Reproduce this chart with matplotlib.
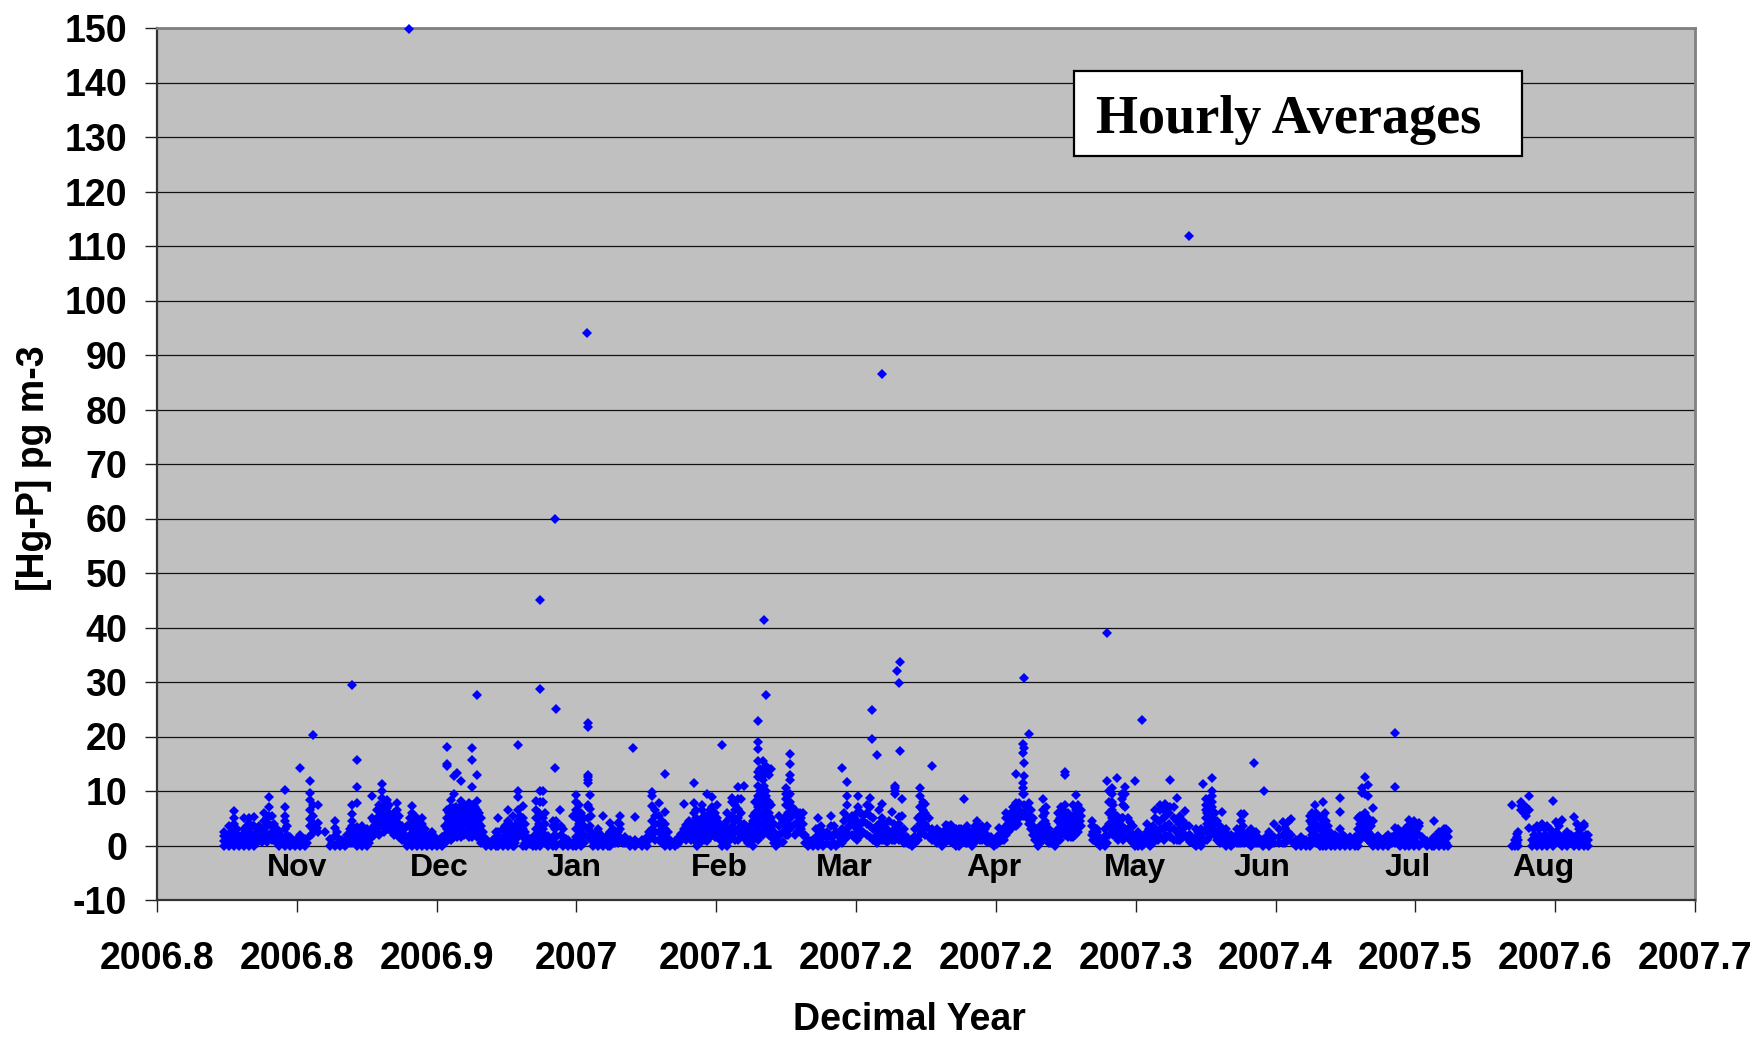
import matplotlib
matplotlib.use('Agg')
import matplotlib.pyplot as plt
from matplotlib.patches import Rectangle

# Each row: decimal year, then the Hg-P values read at that time
hg_nov = [
    (2006.790, 0, 0.8, 1.8, 2.4), (2006.793, 0, 1, 2.2, 3.6), (2006.796, 0, 1, 2.5, 4, 5, 6.3),
    (2006.799, 0, 0.8, 1.8), (2006.802, 0, 1.5, 3, 5), (2006.805, 0, 1.5, 3, 4.2, 5),
    (2006.808, 0, 0.8, 2, 3.5, 5.2), (2006.811, 1.2, 2.4, 3.6), (2006.814, 1.5, 3, 4.5, 6),
    (2006.817, 2, 4, 5.5, 7, 8.9), (2006.820, 1, 2.5, 3.9), (2006.823, 0, 1, 2.4),
    (2006.826, 0, 1.5, 3, 4.5, 5.4, 7.1, 10.1), (2006.829, 0, 0.7, 1.5), (2006.832, 0, 0.5),
    (2006.835, 0, 1, 2, 14.3), (2006.838, 0, 1.2), (2006.841, 1.8, 3.5, 4.8, 6.6, 8.4, 9.6, 11.8),
    (2006.843, 3, 4.2, 5.5, 7.5, 20.2), (2006.846, 2.5, 4.2, 7.5), (2006.850, 2.5),
    (2006.853, 0, 1.2), (2006.856, 0, 1.8, 3.3, 4.5), (2006.859, 0, 0.6), (2006.862, 0, 0.6),
    (2006.865, 0.5, 1.5, 3), (2006.866, 4.5, 5.7, 7.4, 29.5), (2006.869, 0, 1, 2.2, 3.4, 7.8, 10.8, 15.6),
    (2006.872, 0, 1.5, 3.6), (2006.875, 0, 1.5, 3), (2006.878, 1.5, 3, 5, 9), (2006.881, 3, 4.5, 6.6),
    (2006.884, 3.5, 5, 6.5, 8.7, 10, 11.2), (2006.887, 3, 5, 6.8, 8.4), (2006.890, 2.5, 4, 5.5),
    (2006.893, 2, 3.5, 5, 6.5, 7.8), (2006.896, 1, 2.5, 3.6), (2006.899, 0, 1.5, 3.5),
    (2006.900, 149.8), (2006.902, 0, 1.5, 3, 4.5, 6, 7.2), (2006.905, 0, 1.5, 3, 4.5),
    (2006.908, 0, 1, 2.5, 4, 5.1), (2006.911, 0, 1.7), (2006.914, 0, 1, 2.4), (2006.917, 0, 0.6),
]
hg_dec = [
    (2006.920, 0, 1.5), (2006.923, 1.5, 3, 5, 6.6, 14.5, 15, 18), (2006.925, 1, 2.5, 4, 5.5, 7, 8.4),
    (2006.927, 1.5, 3, 5, 6.8, 9.5, 12.7), (2006.929, 1.5, 3, 4.5, 6, 13.3),
    (2006.931, 1.5, 3, 5, 8.2, 11.9), (2006.933, 2, 4, 5.5, 7.5), (2006.936, 1.5, 3, 4.5, 6, 7.8),
    (2006.938, 1.5, 3.5, 5.5, 7.5, 10.8, 15.7, 17.9), (2006.941, 1.5, 3, 5, 6.5, 8.1, 13, 27.7),
    (2006.943, 0.5, 2, 3.5, 5), (2006.946, 0, 1.2), (2006.949, 0, 0.6), (2006.952, 0, 1.5, 2.4),
    (2006.953, 0, 1, 2.5, 5), (2006.956, 0, 1, 3), (2006.959, 0, 1.5, 3, 4.5, 6.6),
    (2006.962, 0, 1.5, 3, 5.4), (2006.963, 0, 1.2), (2006.965, 1.5, 3, 4.5, 6.5, 8.9, 10, 18.5),
    (2006.968, 0, 1.5, 3, 5, 7.2), (2006.970, 0, 1.8), (2006.974, 0, 0.6),
    (2006.976, 0, 1.5, 3, 5, 6.5, 8.1), (2006.978, 0, 1.5, 3.5, 5.5, 8, 10, 28.8, 45),
    (2006.980, 1, 3, 5, 8, 10), (2006.983, 0, 1.8), (2006.986, 0, 1.5, 3.5, 4.5),
    (2006.987, 14.2, 59.9), (2006.988, 0, 1.5, 3.5, 4.5, 25), (2006.990, 6.6), (2006.992, 0, 1.5, 3),
    (2006.995, 0, 1), (2006.998, 0, 0.5, 5.4),
]
hg_jan = [
    (2007.000, 0, 1.5, 3, 5, 6.5, 8, 9.3), (2007.003, 0, 1, 2.5, 4, 5.5, 6),
    (2007.006, 94), (2007.007, 1.5, 3, 5, 7, 7.5, 11.5, 12, 12.5, 12.9, 21.8, 22.4),
    (2007.008, 3.5, 6.7, 9.3), (2007.010, 0, 1, 2), (2007.013, 0, 1, 2.5, 3), (2007.016, 0, 1, 5.4),
    (2007.019, 0, 1, 2), (2007.020, 0, 1, 2.5, 4.2), (2007.023, 0.5, 1.5), (2007.026, 1.5, 3, 4, 5.4),
    (2007.029, 0.5, 1.5), (2007.032, 0, 1), (2007.034, 17.9), (2007.035, 0, 1, 5.3), (2007.039, 0, 1),
    (2007.042, 0, 1.5), (2007.045, 1.5, 3, 4.5, 7.3, 9, 9.8), (2007.049, 1, 2.5, 4, 5.5, 7.8),
    (2007.053, 0, 1.5, 3, 4, 6.2, 13.2), (2007.056, 0, 1), (2007.059, 0, 0.8), (2007.061, 0.6, 1.5),
    (2007.064, 1.5, 3, 7.6), (2007.067, 2, 3.5, 4.5), (2007.070, 1, 2.5, 4, 6, 7.8, 11.5),
    (2007.072, 0, 1.5, 3, 4.5), (2007.075, 1.5, 3, 5, 6.5, 7.5), (2007.078, 0.8, 2.5, 4, 5.5, 9.5),
    (2007.081, 2, 3.5, 5.5, 7, 8.9),
]
hg_feb = [
    (2007.084, 1.5, 3, 5, 7.5), (2007.087, 0, 1.5, 3, 3.5, 18.5), (2007.090, 0, 1, 2.5, 4.5, 6),
    (2007.093, 2, 3.5, 5.5, 8, 8.8), (2007.096, 1, 3, 5, 6.7, 8.5, 10.8), (2007.100, 1.5, 3, 4, 11),
    (2007.102, 0.5, 2, 3), (2007.105, 0, 1, 2.5, 4.5, 5.5),
    (2007.108, 1, 3, 5, 7, 9, 11, 12.5, 13.5, 15.5, 17.7, 19, 22.9), (2007.111, 2, 4, 6, 8, 9, 12, 15.5),
    (2007.112, 41.4), (2007.113, 3, 5, 7, 9, 10, 13.5, 14.5, 27.7), (2007.116, 1.5, 3, 5, 7.5, 14),
    (2007.119, 0, 1, 2), (2007.121, 0.5, 2, 3.5, 5.5), (2007.125, 2, 3.5, 5.5, 7.5, 8.5, 9.5, 10.5),
    (2007.127, 3, 5, 7, 8, 9.5, 12, 13, 15, 16.7), (2007.130, 2, 4, 6.5), (2007.133, 3, 4.5, 6),
    (2007.135, 2, 4, 6), (2007.138, 0, 1), (2007.141, 0, 1), (2007.144, 0, 1.5, 3, 5),
    (2007.147, 0, 1.5, 2.5), (2007.152, 0, 1.5, 3.5, 5.5), (2007.155, 0, 2.5), (2007.158, 0.5, 2, 3, 14.2),
    (2007.161, 1.5, 3, 5, 7.5, 9, 11.6), (2007.164, 2, 4, 5.5),
]
hg_mar = [
    (2007.167, 1, 2.5, 4.5, 6), (2007.168, 3, 7, 9), (2007.171, 2.5, 4.5, 5.5),
    (2007.175, 1.5, 3.5, 5.5, 7, 8.7), (2007.176, 19.5, 24.9), (2007.179, 0.5, 2, 3.5, 16.6),
    (2007.182, 1, 3, 5, 7.7, 86.5), (2007.185, 0.7, 2, 3), (2007.188, 1, 2.5, 6.2),
    (2007.190, 1, 3, 9.5, 10, 10.5, 11), (2007.191, 32), (2007.192, 1.5, 3, 5.2, 29.8),
    (2007.193, 17.3, 33.6), (2007.194, 1, 2.5, 5.5, 8.5), (2007.197, 0.5, 1.5), (2007.200, 0, 0.8),
    (2007.202, 0.5, 1.5, 3), (2007.205, 2, 4, 5.5, 7, 9, 10.5), (2007.208, 2, 4, 6, 7.7),
    (2007.212, 1, 2, 3, 14.5), (2007.215, 0.5, 2, 3), (2007.218, 0, 1, 2), (2007.220, 0.7, 2, 3, 3.7),
    (2007.223, 0.6, 2, 3.7), (2007.226, 0, 1.5, 3), (2007.228, 0, 1.5, 3), (2007.231, 1, 2.5, 8.5),
    (2007.233, 0.5, 2, 3.5), (2007.236, 0, 1.5, 2.5), (2007.239, 1, 2.5, 3.8, 4.5), (2007.242, 1, 2.5, 3.5),
    (2007.245, 0.7, 2, 3.5), (2007.249, 0, 1),
]
hg_apr = [
    (2007.252, 0.7, 2, 3.2), (2007.255, 1, 2, 3), (2007.256, 2, 3.5, 5, 5.9), (2007.259, 3, 4.5, 6),
    (2007.262, 3.5, 5, 6.5, 7.8, 13.2), (2007.264, 5, 6.5, 7.8), (2007.266, 5.5, 9.5, 10.5, 11.5, 17, 18.7),
    (2007.267, 6, 7.5, 9.5, 12.8, 15.1, 17.8, 30.8), (2007.270, 4, 5.5, 7.8, 20.4), (2007.272, 2, 3.5, 5),
    (2007.275, 0, 1.5, 3), (2007.278, 1, 2.5, 4, 5.5, 6.5, 8.5), (2007.280, 1, 2.5, 4, 7), (2007.283, 0.5, 2),
    (2007.285, 0, 1), (2007.287, 1.5, 3, 4.5, 6), (2007.289, 2, 4, 6, 7), (2007.291, 2, 4, 5.5, 7.5, 13, 13.5),
    (2007.294, 2, 3.5, 5), (2007.296, 1.5, 3.5, 5.5, 7.5), (2007.298, 3, 5, 6.5, 9.2), (2007.300, 4.5),
    (2007.307, 2, 3.5, 4.5), (2007.310, 1, 2, 3), (2007.312, 0, 1), (2007.315, 0, 1.5, 3),
    (2007.3165, 0.5, 11.8, 39),
]
hg_may = [
    (2007.319, 3, 5, 6.5, 8, 9.5, 10.5), (2007.322, 1.5, 3, 5.5, 12.4), (2007.325, 2, 3.5, 5, 8.5, 9.5),
    (2007.327, 1.5, 3, 7, 9.5, 10.8), (2007.330, 1, 2.5, 4.3), (2007.333, 0, 1.5, 11.8), (2007.335, 0, 1, 2.5),
    (2007.337, 0, 1.5, 23), (2007.340, 1, 2.5, 4), (2007.342, 0, 1.5, 3), (2007.345, 1, 3, 5, 6.5),
    (2007.348, 1.5, 3, 4.5, 6.5, 7.5), (2007.351, 2, 3.5, 5.5, 7.7), (2007.354, 1.5, 3, 7, 12),
    (2007.358, 1, 2.5, 4.5, 8.7), (2007.360, 1, 3, 5.5), (2007.363, 2, 4, 6.3), (2007.365, 111.8),
    (2007.366, 0.7, 2), (2007.369, 0, 1.5, 3), (2007.372, 0, 1, 3), (2007.3735, 2.5, 11.2),
    (2007.375, 3, 5, 6.5, 7.5, 8.5), (2007.377, 3, 5, 7, 8.5), (2007.379, 3, 5, 7, 8, 9, 10, 12.4),
    (2007.382, 1, 2.5, 4.5), (2007.385, 1, 3, 6.2), (2007.387, 0, 1, 3), (2007.390, 0, 1, 2),
    (2007.394, 0.5, 2, 3), (2007.396, 0.5, 2, 4.5, 5.8), (2007.398, 0.5, 1.5, 5.8), (2007.402, 0, 1, 3),
    (2007.404, 15.1), (2007.405, 0.5, 1.5, 2.5), (2007.409, 0, 1), (2007.4096, 10),
]
hg_jun = [
    (2007.413, 0, 1, 2.5), (2007.416, 0.5, 1.5, 3.9), (2007.421, 0.5, 2, 4.3), (2007.424, 1, 2.5, 4.3),
    (2007.426, 2, 4.8), (2007.429, 0, 1), (2007.432, 0, 1, 1.5), (2007.435, 0, 1), (2007.437, 0, 1, 3, 4.5, 5.5),
    (2007.440, 1, 3, 5, 7.5), (2007.443, 0, 1, 3, 5), (2007.445, 0, 2, 4, 5.5, 8), (2007.447, 0, 1, 3, 4.5),
    (2007.450, 0, 1, 2.3), (2007.452, 0, 1, 2), (2007.455, 0, 1, 3, 6.2, 8.7), (2007.458, 0, 1.5),
    (2007.461, 0, 1, 1.5), (2007.464, 0, 1.5), (2007.466, 0, 1.5, 3, 5), (2007.468, 3, 4.5, 5.5, 9.7, 10.5),
    (2007.470, 2, 4, 6, 9.5, 12.6), (2007.472, 1, 3, 5, 9, 11.1), (2007.475, 0, 1, 4.5, 6.9),
    (2007.478, 0, 1, 1.8), (2007.481, 0, 1), (2007.484, 0, 1, 2),
]
hg_jul = [
    (2007.488, 0.5, 2, 3.3, 10.7, 20.7), (2007.491, 0, 1.5, 2.5), (2007.494, 0, 1, 3), (2007.4965, 0, 1.5, 3, 4.7),
    (2007.499, 0, 1.5, 3, 4.5), (2007.502, 0, 2, 3.5, 4.2), (2007.507, 0, 0.8), (2007.510, 0, 1),
    (2007.511, 0, 1.5, 4.5), (2007.514, 0, 1.5, 2.5), (2007.517, 0, 1.5, 3), (2007.5195, 0, 1.5, 2.6),
]
hg_aug = [
    (2007.5576, 0, 7.4), (2007.5596, 0, 1), (2007.5615, 0, 1, 2.5), (2007.5627, 6.5, 7.2, 7.9),
    (2007.5645, 6, 7), (2007.5657, 5.5, 6.3, 7), (2007.5675, 9), (2007.5679, 3.3, 6.5), (2007.5695, 0, 1),
    (2007.5725, 0, 1.5, 3.5), (2007.5754, 0, 1.5, 3.9), (2007.5784, 0, 1.5, 3.5), (2007.5818, 0, 1.5, 8.2),
    (2007.5838, 1, 2.5, 4.3), (2007.5873, 0, 1.5, 4.6), (2007.5903, 0, 1, 2.5), (2007.5948, 0, 1.5, 5.3),
    (2007.5973, 0, 1.5, 3), (2007.6008, 0, 1.5, 3.5, 4), (2007.6032, 0, 1, 2),
]
# the solid low part of the cloud, read between the rows above
hg_low_2006 = [
    (2006.7915, 0.5, 1.5), (2006.7945, 0.5, 1.5, 2.5), (2006.7975, 0.5, 1.5, 3), (2006.8005, 0.5, 1, 2),
    (2006.8035, 0.7, 2, 3.5), (2006.8065, 0.7, 2, 3.5), (2006.8095, 0.5, 1.5, 2.5), (2006.8125, 0.7, 2, 3),
    (2006.8155, 0.7, 2, 3.5, 5), (2006.8185, 1, 2.5, 3.5, 5.5), (2006.8215, 0.5, 1.5, 3), (2006.8245, 0.5, 1.5),
    (2006.8275, 0.5, 2, 3.5), (2006.8305, 0.3, 1), (2006.8335, 0.3, 1.2), (2006.8365, 0.3, 1), (2006.8395, 0.5),
    (2006.8425, 2.2), (2006.8455, 3.3), (2006.8545, 0.5), (2006.8575, 0.3, 1.5, 2.5), (2006.8605, 0.3, 1),
    (2006.8635, 0.3, 1.2, 2), (2006.8665, 0.5, 1.5, 2.5, 3.5), (2006.8705, 0.5, 1.5, 2.8), (2006.8735, 0.5, 1.5, 2.5),
    (2006.8765, 0.5, 2), (2006.8795, 2, 3.5, 4.5), (2006.8825, 2, 3.5, 5.5, 7.5), (2006.8855, 2.5, 4, 5.5, 7.5),
    (2006.8885, 3, 4.5, 6, 7.5), (2006.8915, 2, 3, 4.5, 6), (2006.8945, 1.5, 2.5, 4, 5.5), (2006.8975, 1, 2, 3),
    (2006.9005, 0.5, 2, 3.5, 5), (2006.9035, 0.5, 2, 3.5, 5.5), (2006.9065, 0.5, 2, 3.5), (2006.9095, 0.3, 1.5, 3),
    (2006.9125, 0.3, 1), (2006.9155, 0.3, 1.5), (2006.9185, 0.3, 0.8), (2006.9215, 0.5, 2, 3.5),
    (2006.9240, 2, 3.5, 4.5, 6), (2006.9265, 2, 3.5, 4.5, 6), (2006.9285, 2, 3.5, 5, 7), (2006.9305, 2, 3.5, 5, 7),
    (2006.9325, 2.5, 4.5, 6.5), (2006.9345, 2.5, 4, 5.5, 7), (2006.9375, 2.5, 4.5, 6.5), (2006.9395, 2.5, 4.5, 6, 7),
    (2006.9420, 2, 4, 6), (2006.9445, 1, 2.5), (2006.9475, 0.3), (2006.9505, 0.5, 1), (2006.9535, 0.5, 1.7),
    (2006.9575, 0.5, 2, 3.5), (2006.9605, 0.5, 2, 4), (2006.9635, 0.5, 2, 3.5), (2006.9665, 2.5, 4, 5.5),
    (2006.9695, 0.5, 2.5, 4), (2006.9725, 0.3, 1.2), (2006.9755, 0.5, 2), (2006.9775, 0.7, 2.5, 4, 6),
    (2006.9815, 0.5, 2, 4, 6), (2006.9845, 0.5, 1.2), (2006.9875, 0.5, 2, 3), (2006.9905, 0.5, 2, 3.5),
    (2006.9935, 0.5, 1.2), (2006.9965, 0.3),
]
hg_low_2007a = [
    (2007.0015, 0.5, 2, 4, 5.5, 7.5), (2007.0045, 0.5, 2, 3.5, 5), (2007.0085, 1, 2.5, 5.5), (2007.0115, 0.5, 1.5),
    (2007.0145, 0.5, 1.5, 2), (2007.0175, 0.5, 1.5), (2007.0215, 0.5, 1.5, 3), (2007.0245, 0.5, 1, 2.5, 4.2),
    (2007.0275, 0.5), (2007.0305, 0.5), (2007.0335, 0.5), (2007.0365, 0.5), (2007.0405, 0.5), (2007.0435, 1, 2.5),
    (2007.0470, 1, 2.5, 4, 5.5, 6.5), (2007.0510, 0.5, 2, 3.5, 4.5), (2007.0545, 0.5, 1.2, 2.5), (2007.0575, 0.5),
    (2007.0605, 0.3, 1), (2007.0625, 1, 2.2), (2007.0655, 1, 2.5, 3.7), (2007.0685, 1, 2.5, 4), (2007.0710, 1.5, 3, 5, 6.5),
    (2007.0735, 0.5, 2, 3.8), (2007.0765, 1, 2.5, 4, 5.5), (2007.0795, 1.5, 3, 4.5, 6.5), (2007.0825, 1.5, 3, 4.5, 6),
    (2007.0855, 1, 2.5, 4), (2007.0885, 0.5, 2, 3.5), (2007.0915, 1, 3, 5), (2007.0945, 1, 2.5, 4.5, 6.5, 7.5),
    (2007.0980, 2, 4, 6, 8.5), (2007.1010, 1, 2.5, 3.5), (2007.1035, 0.5, 1.5, 3.5), (2007.1065, 2, 4, 6, 8),
    (2007.1095, 2, 4, 6, 8, 10, 14), (2007.1120, 2.5, 5, 7, 9, 11, 13), (2007.1145, 2, 4, 6, 8, 13), (2007.1175, 0.5, 2.5, 4),
    (2007.1200, 0.5, 1.5), (2007.1230, 0.7, 2.5, 4.5), (2007.1260, 2, 4, 6, 9), (2007.1285, 3.5, 5.5, 7), (2007.1315, 2.5, 4, 5.5),
    (2007.1340, 3, 5), (2007.1365, 0.5, 2), (2007.1395, 0.3, 0.8), (2007.1425, 0.5, 1.5, 3), (2007.1455, 0.5, 1.5, 2.5, 3.5),
    (2007.1495, 0.5, 1.5, 2.5), (2007.1535, 0.5, 2, 3.5), (2007.1565, 0.5, 1.5), (2007.1595, 1, 2.5, 4.5, 6), (2007.1625, 2, 3.5, 5),
    (2007.1655, 1.5, 3.5, 5), (2007.1695, 2, 4, 6), (2007.1730, 2, 4, 6, 7.5), (2007.1765, 1, 3, 5), (2007.1805, 1, 2.5, 4, 6.5),
    (2007.1835, 1, 2, 4), (2007.1865, 1, 2.5, 4.5), (2007.1890, 1, 2, 4), (2007.1925, 1, 2.5, 4), (2007.1955, 0.5, 1.5, 3),
    (2007.1985, 0.3, 0.8), (2007.2010, 0.5, 1.5), (2007.2035, 1, 3, 5), (2007.2065, 3, 5, 6.5, 8), (2007.2100, 1.5, 3, 5),
    (2007.2135, 1, 2), (2007.2165, 0.5, 1.5, 2.5), (2007.2190, 0.5, 1.5, 2.5), (2007.2215, 1, 2.5, 3.5), (2007.2245, 0.5, 1.5, 3),
    (2007.2270, 0.5, 1.5, 2.5), (2007.2295, 0.5, 2, 3), (2007.2320, 0.5, 1.5, 3), (2007.2350, 0.5, 1.5, 2.5), (2007.2375, 0.7, 2, 3.5),
    (2007.2405, 1, 2, 3.2), (2007.2435, 1, 2, 3), (2007.2470, 0.5, 1.5),
]
hg_low_2007b = [
    (2007.2505, 0.3, 1.5), (2007.2535, 1, 2.5), (2007.2575, 2.5, 4), (2007.2605, 3.5, 5.5, 7), (2007.2630, 4, 6),
    (2007.2685, 5, 7), (2007.2710, 3, 4.5, 6.5), (2007.2735, 1, 2.5), (2007.2765, 0.5, 2, 3.5), (2007.2790, 2, 3, 4.5, 6),
    (2007.2815, 0.5, 1.5, 3), (2007.2840, 0.5), (2007.2860, 0.5, 2.5), (2007.2880, 1, 3, 5), (2007.2900, 3, 5, 6.5),
    (2007.2930, 1.5, 3, 4.5, 6), (2007.2950, 1.5, 3, 4.5), (2007.2970, 2, 4, 5.5), (2007.2990, 2.5, 4, 5.5, 7.5),
    (2007.3010, 3.5, 5.5, 6.5), (2007.3080, 1, 2.5, 3.5), (2007.3105, 0.5, 1.5, 2.5), (2007.3135, 0.3, 1), (2007.3155, 0.5, 2),
    (2007.3175, 2, 4, 6, 8, 10), (2007.3200, 2, 4, 6, 7.5), (2007.3230, 1, 2.5, 4.5), (2007.3260, 1, 3, 5, 7.5),
    (2007.3285, 1.5, 3, 5), (2007.3315, 0.5, 2, 3.5), (2007.3345, 0.3, 1.5), (2007.3365, 0.3, 1), (2007.3385, 0.3, 1.5),
    (2007.3410, 0.5, 1.5, 3), (2007.3435, 0.5, 2, 3.5), (2007.3465, 1, 2.5, 4.5), (2007.3500, 1, 3, 5, 6.5), (2007.3530, 2, 4, 6),
    (2007.3560, 1, 3, 5, 7), (2007.3590, 1, 2, 4, 5), (2007.3615, 1.5, 3, 4.5), (2007.3650, 1, 2, 3.5), (2007.3680, 0.3, 1.2),
    (2007.3705, 0.3, 1.5, 2.5), (2007.3730, 0.5, 1.5), (2007.3760, 1, 2.5, 4, 6), (2007.3780, 2, 4, 6, 8), (2007.3805, 2, 4, 6),
    (2007.3835, 0.5, 2, 3.5), (2007.3860, 0.5, 2), (2007.3885, 0.5, 2), (2007.3920, 0.5, 1.5), (2007.3950, 0.5, 1.5),
    (2007.3970, 1, 2.5, 3.5), (2007.4000, 0.5, 1.5, 2.5), (2007.4035, 0.5, 1.5, 2.5), (2007.4065, 0.5, 1.5), (2007.4110, 0.5, 1.5),
    (2007.4145, 0.5, 1.5), (2007.4185, 0.5, 1.5, 3), (2007.4225, 0.5, 1.5, 3.3), (2007.4270, 0.5), (2007.4305, 0.5, 1),
    (2007.4335, 0.5, 1), (2007.4385, 1, 2, 4, 6), (2007.4410, 0.5, 2, 4, 6), (2007.4460, 0.5, 2, 4, 6), (2007.4480, 0.5, 2, 3.5),
    (2007.4510, 0.5, 1.5), (2007.4540, 0.5, 1.5), (2007.4570, 0.5, 2), (2007.4600, 0.5, 1), (2007.4625, 0.5, 1), (2007.4650, 0.5, 1),
    (2007.4672, 1, 2.5, 4, 5.5), (2007.4690, 2, 4, 5.5), (2007.4715, 1, 2.5, 4), (2007.4735, 0.5, 2, 3.5), (2007.4770, 0.5, 1.5),
    (2007.4800, 0.5, 1), (2007.4825, 0.5, 1.5), (2007.4860, 0.5, 1.5), (2007.4895, 0.5, 1.5, 3), (2007.4930, 0.5, 1.5, 2.5),
    (2007.4955, 0.5, 2, 3.5), (2007.4980, 1, 2.5, 3.5), (2007.5010, 0.5, 2, 3), (2007.5040, 0.5, 1.5), (2007.5090, 0.5),
    (2007.5125, 0.5, 1.5), (2007.5155, 0.5, 2), (2007.5185, 0.5, 2, 3), (2007.5606, 0.5, 1.5, 2.2), (2007.5640, 6.5),
    (2007.5710, 0.5, 2, 3), (2007.5740, 0.5, 2, 3), (2007.5770, 0.5, 2, 3), (2007.5800, 0.5, 2, 3), (2007.5855, 0.5, 2, 3.5),
    (2007.5890, 0.5, 2), (2007.5925, 0.5, 1.5, 2), (2007.5965, 0.5, 2, 4), (2007.5990, 0.5, 2, 3), (2007.6020, 0.5, 2),
]

x_ticks = [2006.75, 2006.8333, 2006.9167, 2007.0, 2007.0833, 2007.1667,
           2007.25, 2007.3333, 2007.4167, 2007.5, 2007.5833, 2007.6667]
x_tick_labels = ['2006.8', '2006.8', '2006.9', '2007', '2007.1', '2007.2',
                 '2007.2', '2007.3', '2007.4', '2007.5', '2007.6', '2007.7']
y_ticks = list(range(-10, 151, 10))
month_names = ['Nov', 'Dec', 'Jan', 'Feb', 'Mar', 'Apr', 'May', 'Jun', 'Jul', 'Aug']
month_years = [2006.8333, 2006.9185, 2006.9985, 2007.085, 2007.1597, 2007.2485,
               2007.333, 2007.4085, 2007.4955, 2007.5765]

W, H = 1758, 1037
plt.rcParams['font.family'] = ['Liberation Sans', 'DejaVu Sans']
plt.rcParams['axes.unicode_minus'] = False
fig = plt.figure(figsize=(W / 100, H / 100), dpi=100, facecolor='white')
ax = fig.add_axes([157 / W, 1 - 900 / H, (1695 - 157) / W, (900 - 28) / H], facecolor='#C0C0C0')

# flatten the rows into x and y
xs, ys = [], []
for rows in [hg_nov, hg_dec, hg_jan, hg_feb, hg_mar, hg_apr, hg_may, hg_jun, hg_jul, hg_aug,
             hg_low_2006, hg_low_2007a, hg_low_2007b]:
    for row in rows:
        for v in row[1:]:
            xs.append(row[0])
            ys.append(v)

ax.plot(xs, ys, linestyle='none', marker='D', ms=4.8, mew=0, color='#0000FF', clip_on=False, zorder=3)

ax.set_xlim(2006.75, 2007.6667)
ax.set_ylim(-10, 150)
ax.set_xticks(x_ticks)
ax.set_xticklabels(x_tick_labels)
ax.set_yticks(y_ticks)
ax.grid(True, axis='y', color='#111111', lw=0.9, zorder=1)
ax.set_axisbelow(True)
ax.tick_params(axis='both', length=8.5, width=1, color='#222222', labelsize=27)
ax.tick_params(axis='y', pad=13)
ax.tick_params(axis='x', pad=21)
for lab in ax.get_xticklabels() + ax.get_yticklabels():
    lab.set_fontweight('bold')

for side in ['top', 'right']:
    ax.spines[side].set_color('#808080')
    ax.spines[side].set_linewidth(2)
for side in ['left', 'bottom']:
    ax.spines[side].set_color('#333333')
    ax.spines[side].set_linewidth(1.6)

for name, yr in zip(month_names, month_years):
    ax.text(yr, -4.2, name, ha='center', va='center', fontsize=23, fontweight='bold', color='black', zorder=4)

# label box sits on top of the gridlines
fig.add_artist(Rectangle((1074 / W, 1 - 156 / H), (1522 - 1074) / W, (156 - 71) / H, transform=fig.transFigure,
                         facecolor='white', edgecolor='black', lw=1.6, zorder=5))
fig.text(1096 / W, 1 - 120 / H, 'Hourly Averages', family=['Liberation Serif', 'DejaVu Serif'], fontweight='bold',
         fontsize=39, va='center', ha='left', zorder=6)

fig.text(34 / W, 1 - 468 / H, '[Hg-P] pg m-3', rotation=90, ha='center', va='center', fontsize=27, fontweight='bold')
fig.text(909 / W, 1 - 1020 / H, 'Decimal Year', ha='center', va='center', fontsize=27, fontweight='bold')

fig.savefig('out.png', dpi=100)
